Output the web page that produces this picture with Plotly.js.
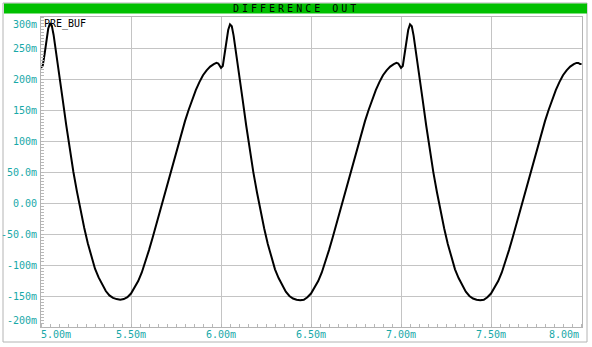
<!DOCTYPE html>
<html>
<head>
<meta charset="utf-8">
<script src="https://cdn.plot.ly/plotly-3.0.1.min.js"></script>
<style>
html,body{margin:0;padding:0;background:#fff;}
#chart{width:592px;height:347px;}
text[data-unformatted="DIFFERENCE OUT"]{letter-spacing:3px;}
</style>
</head>
<body>
<div id="chart"></div>
<script>
// ---- data (time in ms, signal in mV) ----
const chartTitle = "DIFFERENCE OUT";
const traceName = "PRE_BUF";

const timeMs = [
 5.000,5.010,5.020,5.030,5.040,5.050,5.060,5.070,5.080,
 5.100,5.120,5.140,5.160,5.180,5.200,5.220,5.240,5.260,5.280,
 5.300,5.320,5.340,5.360,5.380,5.400,5.420,5.440,5.460,5.480,
 5.500,5.520,5.540,5.560,5.580,5.600,5.620,5.640,5.660,5.680,
 5.700,5.720,5.740,5.760,5.780,5.800,5.820,5.840,5.860,5.880,
 5.900,5.920,5.940,5.960,5.975,5.985,5.995,
 6.000,6.010,6.020,6.030,6.040,6.050,6.060,6.070,6.080,
 6.100,6.120,6.140,6.160,6.180,6.200,6.220,6.240,6.260,6.280,
 6.300,6.320,6.340,6.360,6.380,6.400,6.420,6.440,6.460,6.480,
 6.500,6.520,6.540,6.560,6.580,6.600,6.620,6.640,6.660,6.680,
 6.700,6.720,6.740,6.760,6.780,6.800,6.820,6.840,6.860,6.880,
 6.900,6.920,6.940,6.960,6.975,6.985,6.995,
 7.000,7.010,7.020,7.030,7.040,7.050,7.060,7.070,7.080,
 7.100,7.120,7.140,7.160,7.180,7.200,7.220,7.240,7.260,7.280,
 7.300,7.320,7.340,7.360,7.380,7.400,7.420,7.440,7.460,7.480,
 7.500,7.520,7.540,7.560,7.580,7.600,7.620,7.640,7.660,7.680,
 7.700,7.720,7.740,7.760,7.780,7.800,7.820,7.840,7.860,7.880,
 7.900,7.920,7.940,7.960,7.975,7.985,7.995,8.003
];

const diffOutMv = [
 218,222,240,262,281,290,286,271,252,
 210,168,126,86,50,18,-12,-40,-65,-87,
 -106,-120,-132,-142,-149,-153,-155,-156,-155,-152,
 -146,-137,-126,-112,-95,-76,-56,-35,-13,8,
 30,51,72,93,113,132,150,167,182,195,
 206,214,220,224,226,225,220,
 218,221,238,260,279,288,285,270,251,
 209,167,125,85,49,17,-13,-41,-66,-88,
 -107,-121,-133,-143,-150,-154,-156,-157,-156,-152,
 -146,-137,-126,-112,-95,-76,-56,-35,-13,8,
 30,51,72,93,113,132,150,167,182,195,
 206,214,220,224,226,225,220,
 218,221,238,260,279,288,285,270,251,
 209,167,125,85,49,17,-13,-41,-66,-88,
 -107,-121,-133,-143,-150,-154,-156,-157,-156,-152,
 -146,-137,-126,-112,-95,-76,-56,-35,-13,8,
 30,51,72,93,113,132,150,167,182,195,
 206,214,220,224,226,226,224,224
];

const xTickVals = [5.0,5.5,6.0,6.5,7.0,7.5,8.0];
const xTickText = ["5.00m","5.50m","6.00m","6.50m","7.00m","7.50m","8.00m"];
const yTickVals = [300,250,200,150,100,50,0,-50,-100,-150,-200];
const yTickText = ["300m","250m","200m","150m","100m","50.0m","0.00","-50.0m","-100m","-150m","-200m"];

// ---- layout geometry ----
const W = 592, H = 347;
const M = {l:41, r:10, t:17, b:20};
const PW = W - M.l - M.r, PH = H - M.t - M.b;
const px = v => (v - M.l) / PW;          // pixel x -> paper
const py = v => (H - M.b - v) / PH;      // pixel y -> paper

const tealColor = '#18a8a8';
const tickFont = {family:'DejaVu Sans Mono', size:10, color:tealColor};

const annotations = [];
xTickVals.forEach((v,i)=>{
  const last = i === xTickVals.length-1;
  annotations.push({
    x: v, xref:'x', y:0, yref:'paper',
    xanchor: i===0 ? 'left' : (last ? 'right' : 'center'),
    yanchor:'top', yshift:0, xshift: i===0 ? -2 : 0,
    text: xTickText[i], showarrow:false, font: tickFont
  });
});
yTickVals.forEach((v,i)=>{
  const first = i===0, last = i===yTickVals.length-1;
  annotations.push({
    x:0, xref:'paper', y:v, yref:'y',
    xanchor:'right', xshift:-2,
    yanchor: first ? 'top' : (last ? 'bottom' : 'middle'),
    yshift: first ? 0 : (last ? -1 : 0),
    text: yTickText[i], showarrow:false, font: tickFont
  });
});
annotations.push({
  x: px(296), xref:'paper', y: py(8.5), yref:'paper',
  xanchor:'center', yanchor:'middle',
  text: chartTitle, showarrow:false,
  font:{family:'DejaVu Sans Mono', size:10, color:'#000'}
});
annotations.push({
  x: px(42), xref:'paper', y: 1, yref:'paper',
  xanchor:'left', yanchor:'top', yshift:1,
  text: traceName, showarrow:false,
  font:{family:'DejaVu Sans Mono', size:10, color:'#000'}
});

const shapes = [
  {type:'rect', xref:'paper', yref:'paper', x0:px(3), x1:px(587), y0:py(342), y1:py(3),
   line:{color:'#b4b4b4', width:1}, fillcolor:'rgba(0,0,0,0)', layer:'below'},
  {type:'rect', xref:'paper', yref:'paper', x0:px(4), x1:px(587), y0:py(13.5), y1:py(3.5),
   line:{width:0}, fillcolor:'#00c000', layer:'below'}
];

const trace = {
  x: timeMs, y: diffOutMv, type:'scatter', mode:'lines',
  line:{color:'#000', width:2}, name: traceName, hoverinfo:'skip'
};

const axisCommon = {
  showline:true, linecolor:'#b4b4b4', linewidth:1, mirror:true,
  showgrid:true, gridcolor:'#c4c4c4', gridwidth:1,
  zeroline:false, showticklabels:false, ticks:'', fixedrange:true
};

const layout = {
  width:W, height:H,
  margin:{l:M.l, r:M.r, t:M.t, b:M.b, pad:0},
  paper_bgcolor:'#fff', plot_bgcolor:'#fff',
  showlegend:false,
  xaxis: Object.assign({}, axisCommon, {
    range:[5.0, 5.0 + PW/180], tickmode:'array', tickvals:xTickVals,
    minor:{dtick:0.05, tick0:5.0, ticks:'inside', ticklen:3, tickcolor:'#b8b8b8', showgrid:false}
  }),
  yaxis: Object.assign({}, axisCommon, {
    range:[-200, 300], tickmode:'array', tickvals:yTickVals,
    minor:{dtick:5, tick0:0, ticks:'inside', ticklen:3, tickcolor:'#b8b8b8', showgrid:false}
  }),
  annotations, shapes
};

Plotly.newPlot('chart', [trace], layout, {displayModeBar:false, staticPlot:true});
</script>
</body>
</html>
